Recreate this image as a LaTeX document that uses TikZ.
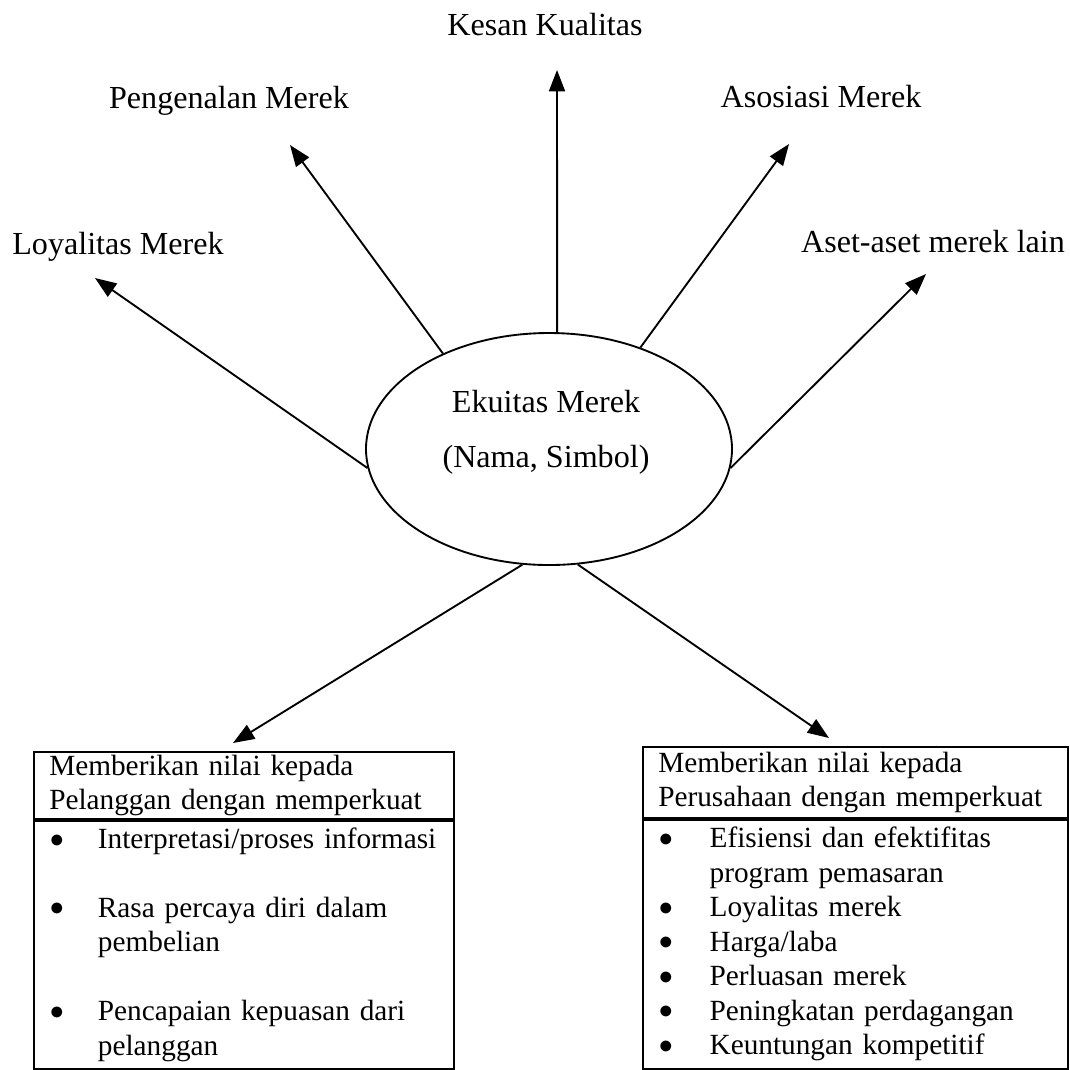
\documentclass[tikz,border=0pt]{standalone}
\usepackage{fontspec}
\setmainfont{Liberation Serif}
\usetikzlibrary{positioning,arrows.meta,shapes.geometric}
\newcommand{\labelfont}{\fontsize{13.7}{16}\selectfont}
\newcommand{\boxfont}{\fontsize{12.5}{14.7}\selectfont}
\newcommand{\dotmark}{\raisebox{0.1ex}{$\bullet$}}
\tikzset{
  pointer/.style={-{Triangle[length=3.2mm, width=2.4mm]}, line width=0.8pt},
  factorlabel/.style={font=\labelfont, anchor=base, inner sep=0pt},
  coreoval/.style={draw, ellipse, line width=0.8pt, minimum width=5.49cm, minimum height=3.48cm, inner sep=0pt},
  headbox/.style={draw, line width=0.8pt, anchor=north west, align=left, inner xsep=0.23cm, inner ysep=0pt, font=\boxfont},
  bodybox/.style={draw, line width=0.8pt, anchor=north west, align=left, inner xsep=0.24cm, inner ysep=0pt, font=\boxfont}
}

\begin{document}
\begin{tikzpicture}[x=0.15mm, y=-0.15mm]
  \useasboundingbox (0,0) rectangle (1070,1069);
  % center
  \node[coreoval] (brand) at (549,449) {};
  \node[font=\fontsize{13.7}{23.5}\selectfont, align=center, inner sep=0pt] (brandtxt) at (546,432)
    {Ekuitas Merek\\(Nama, Simbol)};
  % labels
  \node[factorlabel] (loyal) at (118,254) {Loyalitas Merek};
  \node[factorlabel] (kenal) at (229,108) {Pengenalan Merek};
  \node[factorlabel] (kesan) at (545,35) {Kesan Kualitas};
  \node[factorlabel] (asosiasi) at (821,107) {Asosiasi Merek};
  \node[factorlabel] (aset) at (933,252) {Aset-aset merek lain};
  \coordinate (tipLoyal) at (95,278);
  \coordinate (tipKenal) at (290,145);
  \coordinate (tipKesan) at (557,70);
  \coordinate (tipAsosiasi) at (789,144);
  \coordinate (tipAset) at (926,274);
  \draw[pointer] (brand.186) -- (tipLoyal);
  \draw[pointer] (brand.138) -- (tipKenal);
  \draw[pointer] (brand.86) -- (tipKesan);
  \draw[pointer] (brand.48.6) -- (tipAsosiasi);
  \draw[pointer] (brand.354.4) -- (tipAset);
  % value boxes
  \node[headbox, text width=5.84cm, minimum height=1.005cm] (lhead) at (33,751)
    {Memberikan nilai kepada\\Pelanggan dengan memperkuat};
  \node[bodybox, text width=5.82cm, minimum height=3.72cm] (lbody) at (lhead.south west)
    {\begin{tabular}{@{}p{0.72cm}@{}l@{}}
      \dotmark & Interpretasi/proses informasi\\
      & \\
      \dotmark & Rasa percaya diri dalam\\
      & pembelian\\
      & \\
      \dotmark & Pencapaian kepuasan dari\\
      & pelanggan
    \end{tabular}};
  \node[headbox, text width=5.915cm, minimum height=1.065cm] (rhead) at (642,746)
    {Memberikan nilai kepada\\Perusahaan dengan memperkuat};
  \node[bodybox, text width=5.895cm, minimum height=3.735cm] (rbody) at (rhead.south west)
    {\begin{tabular}{@{}p{0.76cm}@{}l@{}}
      \dotmark & Efisiensi dan efektifitas\\
      & program pemasaran\\
      \dotmark & Loyalitas merek\\
      \dotmark & Harga/laba\\
      \dotmark & Perluasan merek\\
      \dotmark & Peningkatan perdagangan\\
      \dotmark & Keuntungan kompetitif
    \end{tabular}};
  \coordinate (tipLeft) at (233,743);
  \coordinate (tipRight) at (829,738);
  \draw[pointer] (brand.257) -- (tipLeft);
  \draw[pointer] (brand.284) -- (tipRight);
\end{tikzpicture}
\end{document}
